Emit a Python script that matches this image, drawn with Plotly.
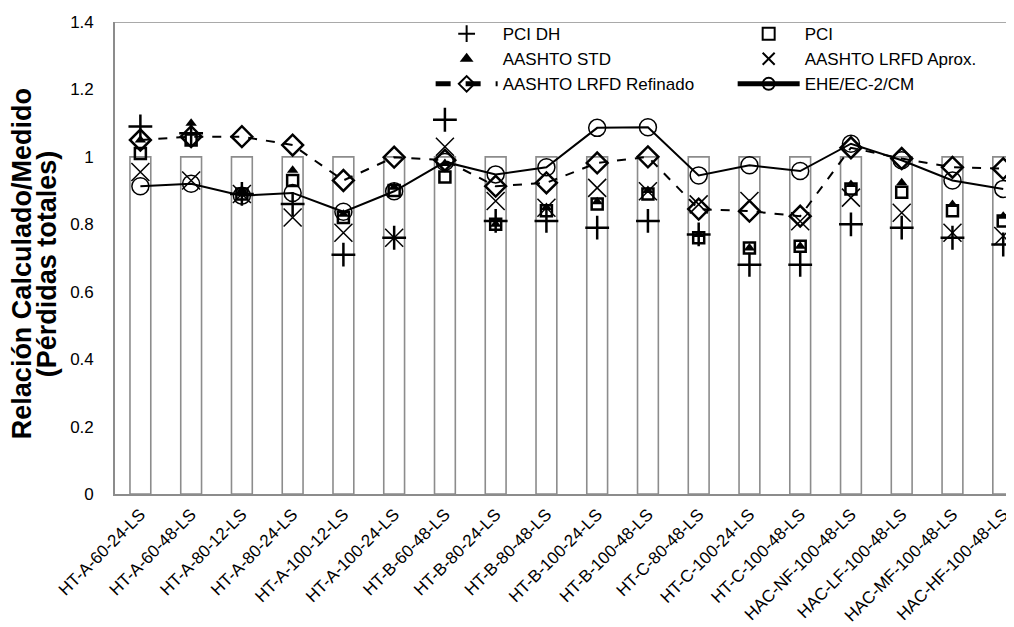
import plotly.graph_objects as go

categories = ["HT-A-60-24-LS", "HT-A-60-48-LS", "HT-A-80-12-LS", "HT-A-80-24-LS",
              "HT-A-100-12-LS", "HT-A-100-24-LS", "HT-B-60-48-LS", "HT-B-80-24-LS",
              "HT-B-80-48-LS", "HT-B-100-24-LS", "HT-B-100-48-LS", "HT-C-80-48-LS",
              "HT-C-100-24-LS", "HT-C-100-48-LS", "HAC-NF-100-48-LS", "HAC-LF-100-48-LS",
              "HAC-MF-100-48-LS", "HAC-HF-100-48-LS"]

medido = [1.0] * 18
pci_dh = [1.09, 1.07, 0.89, 0.86, 0.71, 0.76, 1.11, 0.81, 0.81, 0.79, 0.81, 0.77,
          0.68, 0.68, 0.80, 0.79, 0.76, 0.74]
pci = [1.01, 1.05, 0.89, 0.93, 0.82, 0.90, 0.94, 0.80, 0.84, 0.86, 0.89, 0.76,
       0.73, 0.735, 0.905, 0.895, 0.84, 0.81]
aashto_std = [1.05, 1.10, 0.90, 0.96, 0.83, 0.91, 0.98, 0.80, 0.85, 0.867, 0.90, 0.77,
              0.73, 0.735, 0.918, 0.923, 0.859, 0.824]
aashto_lrfd_aprox = [0.955, 0.93, 0.89, 0.82, 0.775, 0.76, 1.03, 0.869, 0.849, 0.908, 0.898, 0.859,
                     0.869, 0.809, 0.879, 0.834, 0.775, 0.765]
aashto_lrfd_ref = [1.05, 1.06, 1.06, 1.035, 0.93, 0.999, 0.99, 0.913, 0.923, 0.982, 1.0, 0.845,
                   0.839, 0.824, 1.027, 0.995, 0.969, 0.965]
ehe = [0.913, 0.92, 0.885, 0.893, 0.837, 0.898, 0.985, 0.948, 0.969, 1.086, 1.088, 0.945,
       0.975, 0.958, 1.039, 0.99, 0.93, 0.905]

y_title_lines = ["Relación Calculado/Medido", "(Pérdidas totales)"]

FONT = "Liberation Sans, Arial, sans-serif"
BLACK = "#000000"
GRAY = "#8c8c8c"

fig = go.Figure()
fig.add_trace(go.Bar(x=categories, y=medido, width=0.41, showlegend=False,
                     marker=dict(color="white", line=dict(color=GRAY, width=1.6))))

fig.add_trace(go.Scatter(x=categories, y=pci_dh, mode="markers", name="PCI DH", legend="legend",
                         marker=dict(symbol="cross-thin", size=17, color=BLACK,
                                     line=dict(color=BLACK, width=2.5))))
fig.add_trace(go.Scatter(x=categories, y=pci, mode="markers", name="PCI", legend="legend2",
                         marker=dict(symbol="square-open", size=11, color=BLACK,
                                     line=dict(color=BLACK, width=2.5))))
fig.add_trace(go.Scatter(x=categories, y=aashto_std, mode="markers", name="AASHTO STD", legend="legend",
                         marker=dict(symbol="triangle-up", size=10, color=BLACK,
                                     line=dict(width=0))))
fig.add_trace(go.Scatter(x=categories, y=aashto_lrfd_aprox, mode="markers", name="AASHTO LRFD Aprox.",
                         legend="legend2",
                         marker=dict(symbol="x-thin", size=18, color=BLACK,
                                     line=dict(color=BLACK, width=1.5))))
fig.add_trace(go.Scatter(x=categories, y=aashto_lrfd_ref, mode="lines+markers", name="AASHTO LRFD Refinado",
                         legend="legend",
                         line=dict(color=BLACK, width=2, dash="dash"),
                         marker=dict(symbol="diamond-open", size=16, color=BLACK,
                                     line=dict(color=BLACK, width=2.5))))
fig.add_trace(go.Scatter(x=categories, y=ehe, mode="lines+markers", name="EHE/EC-2/CM", legend="legend2",
                         line=dict(color=BLACK, width=2),
                         marker=dict(symbol="circle-open", size=17, color=BLACK,
                                     line=dict(color=BLACK, width=1.5))))

# top border of the plot frame
fig.add_shape(type="line", xref="paper", yref="y", x0=0, x1=1, y0=1.4, y1=1.4,
              line=dict(color=GRAY, width=1.6))

# y-axis title, two bold lines
for txt, xp in zip(y_title_lines, [-0.1025, -0.0749]):
    fig.add_annotation(text="<b>" + txt + "</b>", xref="paper", yref="paper",
                       x=xp, y=0.487, xanchor="center", yanchor="middle",
                       textangle=-90, showarrow=False,
                       font=dict(family=FONT, size=27, color=BLACK))

legend_common = dict(orientation="v", bgcolor="rgba(0,0,0,0)", borderwidth=0,
                     font=dict(family=FONT, size=17, color=BLACK), itemsizing="constant",
                     itemwidth=62, xanchor="left", yanchor="top", tracegroupgap=0)

fig.update_layout(
    width=1014, height=627,
    margin=dict(l=107, r=0, t=14, b=141),
    paper_bgcolor="white", plot_bgcolor="white",
    font=dict(family=FONT, size=17, color=BLACK),
    barmode="overlay",
    legend=dict(x=0.348, y=1.0125, **legend_common),
    legend2=dict(x=0.681, y=1.0125, **legend_common),
    xaxis=dict(range=[-0.5, 17.37], showline=True, linecolor=GRAY, linewidth=1.6,
               showgrid=False, ticks="", tickangle=-45, ticklabelstandoff=2,
               tickfont=dict(family=FONT, size=17, color=BLACK)),
    yaxis=dict(range=[0, 1.4], dtick=0.2, showline=True, linecolor=GRAY, linewidth=1.6,
               showgrid=False, zeroline=False, ticks="", ticklabelstandoff=16,
               tickfont=dict(family=FONT, size=17, color=BLACK)),
)

fig.write_html("out.html")
